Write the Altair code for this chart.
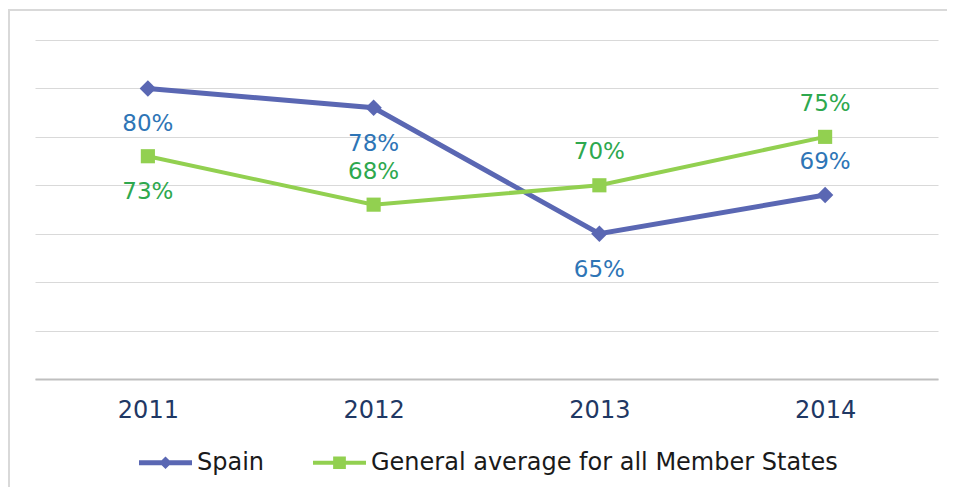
import altair as alt
import pandas as pd

years = ["2011", "2012", "2013", "2014"]
spain_values = [80, 78, 65, 69]
avg_values = [73, 68, 70, 75]
spain_label_pos = ["below", "below", "below", "above"]
avg_label_pos = ["below", "above", "above", "above"]
series_names = ["Spain", "General average for all Member States"]
grid_values = [50, 55, 60, 65, 70, 75, 80, 85]

line_colors = ["#5a67b3", "#92d050"]
label_colors = ["#2e75b6", "#2ea84e"]
FONT = "DejaVu Sans"

rows = []
for name, vals, poss in [(series_names[0], spain_values, spain_label_pos),
                         (series_names[1], avg_values, avg_label_pos)]:
    for yr, v, p in zip(years, vals, poss):
        rows.append({"year": yr, "value": v, "series": name, "pos": p, "label": f"{v}%"})
df = pd.DataFrame(rows)

W, H = 903, 339

x_enc = alt.X("year:O", scale=alt.Scale(type="point", padding=0.5),
              axis=alt.Axis(title=None, labelAngle=0, labelFontSize=24, labelFont=FONT,
                            labelColor="#1f3864", labelPadding=19, ticks=False, tickSize=0,
                            domainColor="#bfbfbf", domainWidth=2, grid=False))
y_enc = alt.Y("value:Q", scale=alt.Scale(domain=[50, 85], nice=False, zero=False),
              axis=alt.Axis(title=None, labels=False, ticks=False, domain=False, grid=True,
                            gridColor="#d9d9d9", gridWidth=1, values=grid_values))

is_spain = alt.datum.series == series_names[0]

base = alt.Chart(df)

lines = base.mark_line().encode(
    x=x_enc, y=y_enc,
    detail="series:N",
    color=alt.condition(is_spain, alt.value(line_colors[0]), alt.value(line_colors[1])),
    strokeWidth=alt.condition(is_spain, alt.value(5), alt.value(4)),
)

pts_spain = base.mark_point(shape="diamond", filled=True, opacity=1, size=270,
                            color=line_colors[0]).encode(
    x=x_enc, y=y_enc,
).transform_filter(is_spain)

pts_avg = base.mark_point(shape="square", filled=True, opacity=1, size=200,
                          color=line_colors[1]).encode(
    x=x_enc, y=y_enc,
).transform_filter(alt.datum.series == series_names[1])

label_color = alt.condition(is_spain, alt.value(label_colors[0]), alt.value(label_colors[1]))

text_above = base.mark_text(fontSize=23, font=FONT, dy=-33).encode(
    x=x_enc, y=y_enc, text="label:N", color=label_color,
).transform_filter(alt.datum.pos == "above")

text_below = base.mark_text(fontSize=23, font=FONT, dy=36).encode(
    x=x_enc, y=y_enc, text="label:N", color=label_color,
).transform_filter(alt.datum.pos == "below")

# legend symbols: a short line with the series marker on it
legend_paths = [
    "M-1,-0.09 H1 V0.09 H-1 Z M0,-0.24 L0.24,0 L0,0.24 L-0.24,0 Z",
    "M-1,-0.08 H1 V0.08 H-1 Z M-0.24,-0.24 H0.24 V0.24 H-0.24 Z",
]
leg = alt.Legend(orient="none", legendX=104, legendY=396, direction="horizontal",
                 title=None, labelFontSize=24, labelFont=FONT, labelColor="#1a1a1a",
                 symbolSize=2809, symbolOpacity=1, symbolStrokeWidth=0,
                 labelOffset=5, columnPadding=48, padding=0, labelLimit=1000)
legend_layer = base.mark_point(filled=True, opacity=0).encode(
    x=x_enc, y=y_enc,
    color=alt.Color("series:N", scale=alt.Scale(domain=series_names, range=line_colors), legend=leg),
    shape=alt.Shape("series:N", scale=alt.Scale(domain=series_names, range=legend_paths), legend=leg),
)

frame_data = alt.Data(values=[{"k": 1}])
frame_top = alt.Chart(frame_data).mark_rule(color="#d9d9d9", strokeWidth=2).encode(
    x=alt.value(-26), x2=alt.value(W + 12), y=alt.value(-30), y2=alt.value(-30))
frame_left = alt.Chart(frame_data).mark_rule(color="#d9d9d9", strokeWidth=2).encode(
    x=alt.value(-26), x2=alt.value(-26), y=alt.value(-31), y2=alt.value(H + 110))

chart = alt.layer(frame_top, frame_left, lines, pts_spain, pts_avg, text_above, text_below, legend_layer).properties(
    width=W, height=H,
    background="white",
    autosize=alt.AutoSizeParams(type="none"),
    padding={"left": 27, "top": 32, "right": 9, "bottom": 108},
).configure_view(stroke=None)

chart.save("out.html", embed_options={"renderer": "svg", "actions": False})
